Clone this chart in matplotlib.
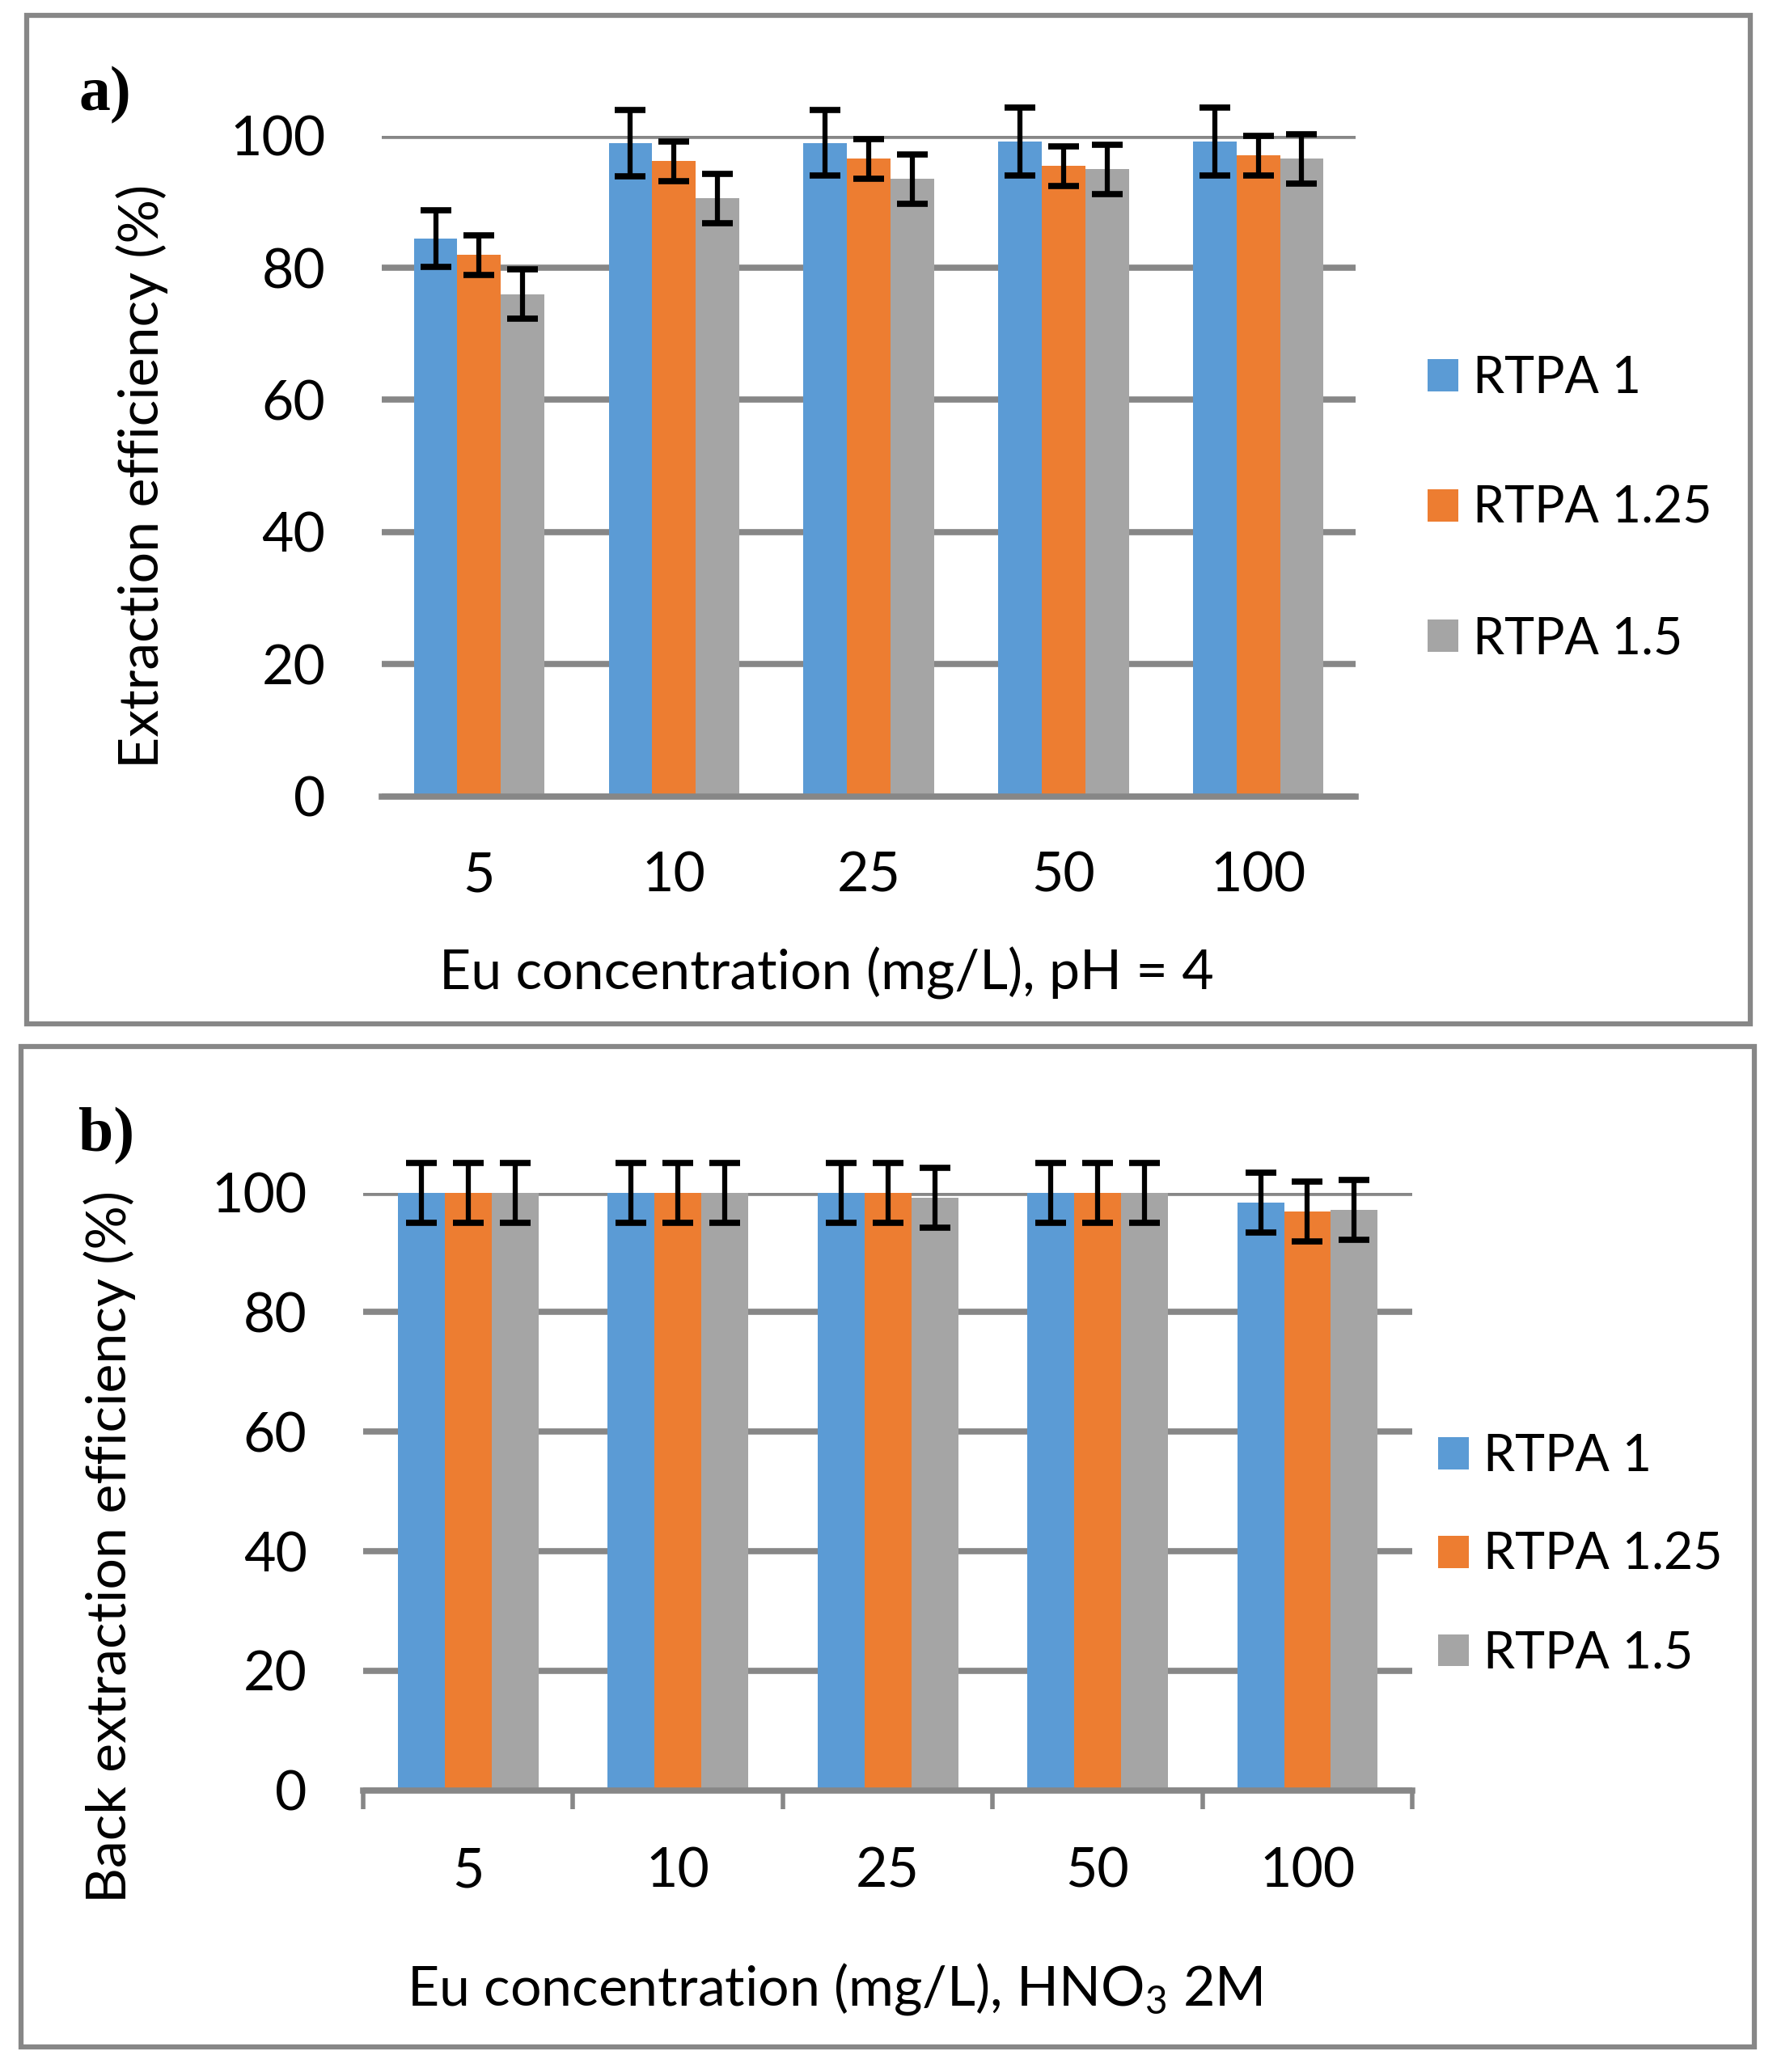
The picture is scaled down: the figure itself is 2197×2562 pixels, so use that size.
import matplotlib
matplotlib.use("Agg")
import matplotlib.pyplot as plt
from matplotlib.patches import Rectangle
import numpy as np

# ── DATA ──────────────────────────────────────────────────────────────────────
concentrations = ["5", "10", "25", "50", "100"]
series_names   = ["RTPA 1", "RTPA 1.25", "RTPA 1.5"]

# a) extraction efficiency (%), pH = 4
ext_rtpa1    = [84.4, 98.8, 98.9, 99.1, 99.1]
ext_rtpa125  = [81.9, 96.1, 96.5, 95.4, 97.0]
ext_rtpa15   = [76.0, 90.5, 93.4, 94.9, 96.5]
ext_err1     = [4.3, 5.0, 5.0, 5.1, 5.1]
ext_err125   = [3.0, 3.0, 3.0, 3.0, 3.0]
ext_err15    = [3.75, 3.75, 3.75, 3.75, 3.75]

# b) back extraction efficiency (%), HNO3 2M
back_rtpa1   = [100.0, 100.0, 100.0, 100.0, 98.3]
back_rtpa125 = [100.0, 100.0, 100.0, 100.0, 96.9]
back_rtpa15  = [100.0, 100.0, 99.1, 100.0, 97.1]
back_err1    = [5.0, 5.0, 5.0, 5.0, 5.0]
back_err125  = [5.0, 5.0, 5.0, 5.0, 5.0]
back_err15   = [5.0, 5.0, 5.0, 5.0, 5.0]

# ── STYLE ─────────────────────────────────────────────────────────────────────
COLORS   = ["#5B9BD5", "#ED7D31", "#A5A5A5"]
GRID_C   = "#878787"
FS       = 49
FS_LEG   = 45
BAR_W    = 0.2233

plt.rcParams["font.family"] = ["Lato", "DejaVu Sans"]
plt.rcParams["mathtext.default"] = "regular"

fig = plt.figure(figsize=(21.97, 25.62), dpi=100)

# panel frames
fig.patches.append(Rectangle((0.0148, 0.5057), 0.9702, 0.4867, transform=fig.transFigure,
                             fill=False, edgecolor=GRID_C, linewidth=4.5))
fig.patches.append(Rectangle((0.0119, 0.012), 0.9755, 0.483, transform=fig.transFigure,
                             fill=False, edgecolor=GRID_C, linewidth=4.5))


def draw_panel(ax, vals, errs, ylabel, xlabel, ylab_xy, xlab_xy, ticks_between, leg_xy, leg_space):
    x = np.arange(len(concentrations))
    for i, (v, e) in enumerate(zip(vals, errs)):
        ax.bar(x + (i - 1) * BAR_W, v, BAR_W, color=COLORS[i], label=series_names[i], zorder=2)
        ax.errorbar(x + (i - 1) * BAR_W, v, yerr=e, fmt="none", ecolor="black",
                    elinewidth=4.5, capsize=14, capthick=5.5, zorder=3, clip_on=False)

    ax.set_xlim(-0.5, len(concentrations) - 0.5)
    ax.set_ylim(0, 100)
    ax.set_yticks([0, 20, 40, 60, 80, 100])
    ax.yaxis.grid(True, color=GRID_C, linewidth=5.5)
    ax.set_axisbelow(True)
    for s in ["top", "right", "left"]:
        ax.spines[s].set_visible(False)
    ax.spines["bottom"].set_color(GRID_C)
    ax.spines["bottom"].set_linewidth(5.5)
    ax.tick_params(axis="y", length=0, pad=50, labelsize=FS)
    ax.set_xticks(x, concentrations)
    if ticks_between:
        ax.set_xticks(np.arange(-0.5, len(concentrations)), minor=True)
        ax.tick_params(axis="x", which="minor", length=16.5, width=4, color=GRID_C)
        ax.tick_params(axis="x", which="major", length=0, pad=50, labelsize=FS)
    else:
        ax.tick_params(axis="x", length=0, pad=49, labelsize=FS)

    ax.set_ylabel(ylabel, fontsize=FS)
    ax.yaxis.set_label_coords(*ylab_xy)
    ax.yaxis.label.set_va("center")
    ax.set_xlabel(xlabel, fontsize=FS)
    ax.xaxis.set_label_coords(*xlab_xy)
    ax.xaxis.label.set_va("center")

    ax.legend(loc="center left", bbox_to_anchor=leg_xy, bbox_transform=fig.transFigure,
              frameon=False, fontsize=FS_LEG, handlelength=0.6, handleheight=0.6,
              handletextpad=0.3, labelspacing=leg_space, borderpad=0, borderaxespad=0)


# ── PANEL a ───────────────────────────────────────────────────────────────────
ax1 = fig.add_axes([0.2148, 0.6156, 0.5481, 0.3190])
draw_panel(ax1, [ext_rtpa1, ext_rtpa125, ext_rtpa15], [ext_err1, ext_err125, ext_err15],
           "Extraction efficiency (%)", "Eu concentration (mg/L), pH = 4",
           (-0.246, 0.484), (0.4565, -0.268), False, (0.8034, 0.7545), 1.65)

# ── PANEL b ───────────────────────────────────────────────────────────────────
ax2 = fig.add_axes([0.2044, 0.1360, 0.5904, 0.2884])
draw_panel(ax2, [back_rtpa1, back_rtpa125, back_rtpa15], [back_err1, back_err125, back_err15],
           "Back extraction efficiency (%)", "Eu concentration (mg/L), HNO$_3$ 2M",
           (-0.242, 0.4075), (0.449, -0.333), True, (0.8093, 0.2495), 1.02)

# panel letters
fig.text(0.0446, 0.947, "a)", fontsize=56, fontweight="bold",
         family="Liberation Serif", va="baseline")
fig.text(0.0440, 0.4446, "b)", fontsize=56, fontweight="bold",
         family="Liberation Serif", va="baseline")

fig.savefig("out.png", dpi=100, facecolor="white")
print("Saved: out.png")
